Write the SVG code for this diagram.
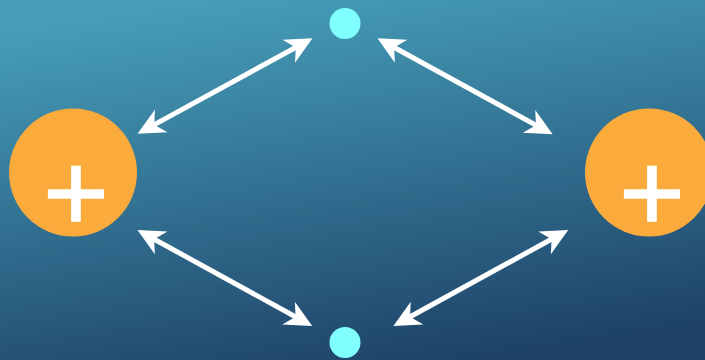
<svg xmlns="http://www.w3.org/2000/svg" width="705" height="360" viewBox="0 0 705 360">
  <defs>
    <linearGradient id="bg" x1="0.35" y1="0" x2="0.65" y2="1">
      <stop offset="0" stop-color="#459db8"/>
      <stop offset="1" stop-color="#1e4268"/>
    </linearGradient>
    <marker id="head" markerUnits="userSpaceOnUse" orient="auto-start-reverse" refX="0" refY="0" markerWidth="40" markerHeight="40" overflow="visible">
      <path d="M15,0 L-12,-13 L-4,0 L-12,13 Z" fill="#ffffff"/>
    </marker>
    <style>
      .big { fill: #fbaa3c; }
      .small { fill: #80ffff; }
      .plus { fill: #ffffff; stroke: #ffffff; stroke-width: 1.6; font-family: "Liberation Sans", Arial, sans-serif; font-size: 112px; text-anchor: middle; }
      .conn { stroke: #ffffff; stroke-width: 5; fill: none; marker-start: url(#head); marker-end: url(#head); }
    </style>
  </defs>
  <rect x="0" y="0" width="705" height="360" fill="url(#bg)"/>
  <g id="connectors">
    <line class="conn" x1="150.7" y1="126.6" x2="299.3" y2="45.5"/>
    <line class="conn" x1="390.6" y1="45.5" x2="539.5" y2="127.1"/>
    <line class="conn" x1="150.6" y1="237.2" x2="299.1" y2="318.8"/>
    <line class="conn" x1="406.5" y1="318.8" x2="555.1" y2="237.2"/>
  </g>
  <g id="left-charge">
    <circle class="big" cx="73" cy="172.5" r="64"/>
    <text class="plus" x="76" y="231">+</text>
  </g>
  <g id="right-charge">
    <circle class="big" cx="649" cy="172.5" r="64"/>
    <text class="plus" x="652" y="231">+</text>
  </g>
  <g id="top-particle">
    <circle class="small" cx="345" cy="23.5" r="15.5"/>
  </g>
  <g id="bottom-particle">
    <circle class="small" cx="345" cy="342.5" r="15.5"/>
  </g>
</svg>
